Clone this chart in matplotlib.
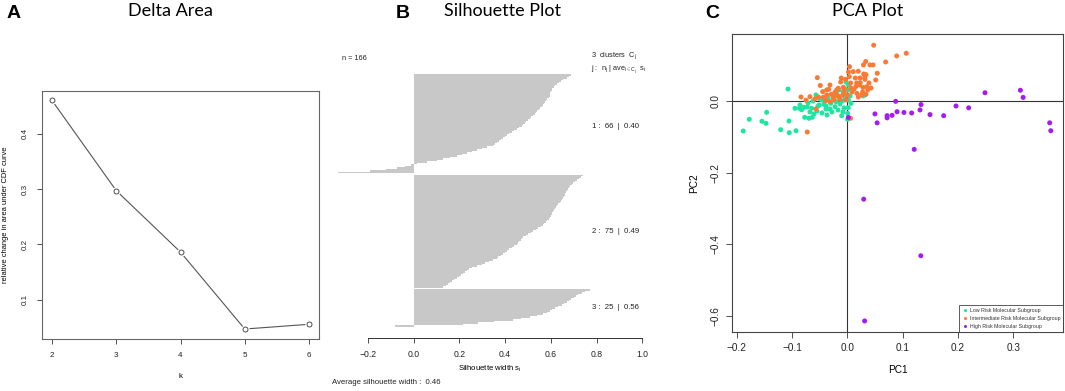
import numpy as np
import matplotlib
matplotlib.use("Agg")
import matplotlib.pyplot as plt
from matplotlib.lines import Line2D

plt.rcParams['font.family'] = ['Liberation Sans', 'DejaVu Sans']
plt.rcParams['mathtext.fontset'] = 'custom'
plt.rcParams['mathtext.rm'] = 'Liberation Sans'
plt.rcParams['mathtext.it'] = 'Liberation Sans'

# ---------------- data ----------------
# Panel A: delta area
k_values = [2, 3, 4, 5, 6]
delta_area = [0.460, 0.297, 0.186, 0.047, 0.0555]

# Panel B: silhouette widths (sorted within cluster)
sil_cluster1 = [0.690, 0.680, 0.670, 0.655, 0.645, 0.635, 0.625, 0.618, 0.612, 0.607,
                0.603, 0.600, 0.598, 0.597, 0.596, 0.590, 0.585, 0.580, 0.575, 0.570,
                0.567, 0.560, 0.554, 0.548, 0.541, 0.535, 0.529, 0.523, 0.515, 0.508,
                0.500, 0.493, 0.486, 0.479, 0.472, 0.462, 0.452, 0.440, 0.428, 0.417,
                0.407, 0.398, 0.390, 0.380, 0.372, 0.363, 0.355, 0.348, 0.320, 0.298,
                0.276, 0.255, 0.232, 0.210, 0.188, 0.160, 0.130, 0.100, 0.060, 0.015,
                -0.010, -0.040, -0.074, -0.120, -0.190, -0.330]
sil_cluster2 = [0.739, 0.730, 0.722, 0.713, 0.706, 0.698, 0.691, 0.685, 0.680, 0.674,
                0.669, 0.666, 0.663, 0.660, 0.657, 0.655, 0.650, 0.644, 0.638, 0.633,
                0.628, 0.623, 0.619, 0.615, 0.611, 0.607, 0.603, 0.600, 0.596, 0.590,
                0.584, 0.578, 0.572, 0.567, 0.556, 0.545, 0.534, 0.523, 0.512, 0.501,
                0.490, 0.480, 0.474, 0.468, 0.462, 0.456, 0.450, 0.440, 0.429, 0.418,
                0.407, 0.398, 0.389, 0.380, 0.371, 0.363, 0.346, 0.330, 0.313, 0.297,
                0.275, 0.254, 0.244, 0.234, 0.225, 0.216, 0.207, 0.198, 0.188, 0.178,
                0.168, 0.159, 0.150, 0.140, 0.130]
sil_cluster3 = [0.771, 0.750, 0.735, 0.720, 0.710, 0.700, 0.690, 0.680, 0.670, 0.658,
                0.647, 0.632, 0.618, 0.607, 0.596, 0.582, 0.567, 0.540, 0.509, 0.470,
                0.436, 0.350, 0.280, 0.217, -0.082]
cluster_labels = ["1 :  66  |  0.40", "2 :  75  |  0.49", "3 :  25  |  0.56"]

# Panel C: PCA scores
low_pc1 = [-0.1881, -0.1772, -0.1543, -0.1470, -0.1458, -0.1204, -0.1054, -0.1049, -0.0928, -0.0946,
           -0.0868, -0.0825, -0.0783, -0.0723, -0.0693, -0.0770, -0.0633, -0.0644, -0.0548, -0.0506,
           -0.0421, -0.0385, -0.0313, -0.0300, -0.0222, -0.0204, -0.0132, -0.0101, 0.0007, 0.0018,
           -0.0042, -0.0145, -0.0253, 0.0018, -0.1072, -0.0566, -0.0458, -0.0253, -0.0192, -0.0150,
           -0.0072, -0.0042, 0.0007, 0.0018, 0.0049, 0.0320, -0.0096, -0.0349, -0.0494, -0.0024,
           0.0067, -0.0060, 0.0007, 0.0284, -0.0675, -0.0385, -0.0602, -0.0458, -0.0277, -0.0168,
           -0.0855, -0.0530, -0.0711, -0.0620, -0.0078, -0.0367]
low_pc2 = [-0.0838, -0.0511, -0.0567, -0.0623, -0.0316, -0.0802, -0.0559, -0.0885, -0.0830, -0.0204,
           -0.0204, -0.0243, -0.0176, -0.0168, -0.0483, -0.0455, -0.0455, -0.0204, -0.0279, -0.0112,
           -0.0092, -0.0223, -0.0223, -0.0064, -0.0159, -0.0020, -0.0084, -0.0411, -0.0344, -0.0187,
           0.0075, 0.0092, 0.0075, 0.0028, 0.0335, 0.0168, 0.0028, 0.0168, 0.0187, 0.0307,
           0.0260, 0.0168, 0.0307, 0.0447, 0.0140, 0.0168, 0.0000, 0.0084, 0.0056, 0.0531,
           -0.0064, -0.0196, -0.0511, 0.0140, -0.0307, -0.0140, -0.0363, -0.0335, -0.0307, -0.0251,
           -0.0112, -0.0140, -0.0056, 0.0000, -0.0307, -0.0391]
mid_pc1 = [0.0477, 0.1067, 0.0893, 0.0694, 0.0333, 0.0293, 0.0410, 0.0465, 0.0040, 0.0108,
           0.0199, 0.0297, 0.0338, 0.0542, 0.0514, 0.0145, 0.0036, -0.0033, -0.0108, -0.0119,
           -0.0542, -0.0313, -0.0336, -0.0488, 0.0061, 0.0170, 0.0224, 0.0157, 0.0320, 0.0351,
           0.0284, 0.0369, 0.0121, 0.0175, 0.0260, -0.0042, -0.0018, 0.0058, -0.0723, -0.0837,
           -0.0747, -0.0289, -0.0181, -0.0373, -0.0313, 0.0199, 0.0315, 0.0235, -0.0445, -0.0434,
           -0.0373, -0.0222, -0.0192, -0.0163, -0.0072, -0.0524, -0.0584, -0.0675, -0.0253, -0.0163,
           -0.0083, -0.0060, 0.0278, 0.0338, 0.0085, 0.0004, 0.0022, 0.0392, 0.0429, 0.0230,
           0.0067, -0.0241, -0.0385, -0.0132, -0.0566]
mid_pc2 = [0.1556, 0.1332, 0.1257, 0.1089, 0.1103, 0.1006, 0.1006, 0.1006, 0.0958, 0.0818,
           0.0830, 0.0754, 0.0735, 0.0774, 0.0587, 0.0642, 0.0679, 0.0601, 0.0642, 0.0531,
           0.0651, 0.0447, 0.0327, 0.0433, 0.0503, 0.0503, 0.0447, 0.0405, 0.0606, 0.0399,
           0.0377, 0.0307, 0.0327, 0.0209, 0.0176, 0.0327, 0.0028, -0.0483, -0.0866, 0.0112,
           0.0022, 0.0187, 0.0140, 0.0168, -0.0020, 0.0112, 0.0651, 0.0511, 0.0260, 0.0103,
           0.0307, 0.0243, 0.0307, 0.0355, 0.0383, 0.0112, 0.0056, 0.0120, 0.0103, 0.0140,
           0.0168, 0.0260, 0.0251, 0.0187, 0.0251, 0.0168, 0.0810, 0.0503, 0.0363, 0.0642,
           0.0363, 0.0028, 0.0014, 0.0042, -0.0223]
high_pc1 = [0.249, 0.313, 0.318, 0.0875, 0.050, 0.054, 0.072, 0.072, 0.081, 0.090,
            0.1025, 0.1164, 0.1315, 0.1333, 0.1496, 0.1743, 0.1966, 0.2195, 0.366, 0.368,
            0.121, 0.0297, 0.133, 0.0314, 0.002]
high_pc2 = [0.023, 0.030, 0.010, -0.001, -0.036, -0.061, -0.041, -0.047, -0.040, -0.030,
            -0.032, -0.0335, -0.025, -0.010, -0.038, -0.041, -0.014, -0.019, -0.061, -0.083,
            -0.135, -0.274, -0.432, -0.614, -0.046]
group_names = ["Low Risk Molecular Subgroup", "Intermediate Risk Molecular Subgroup",
               "High Risk Molecular Subgroup"]
group_colors = ["#1DE6A2", "#FA7A35", "#A51CF2"]

# ---------------- figure ----------------
W, H = 1065, 391
fig = plt.figure(figsize=(W / 100, H / 100), dpi=100)

def fx(px):
    return px / W

def fy(py):
    return 1 - py / H

def axes_px(l, t, r, b):
    return fig.add_axes([fx(l), fy(b), (r - l) / W, (b - t) / H])

frame_col = "#666666"
tick_col = "#333333"

# titles and panel letters
title_font = ['Lato', 'DejaVu Sans']
fig.text(fx(14), fy(13), "A", fontsize=14, fontweight='bold', ha='center', va='center')
fig.text(fx(170), fy(11), "Delta Area", fontsize=13, family=title_font, ha='center', va='center')
fig.text(fx(403), fy(13), "B", fontsize=14, fontweight='bold', ha='center', va='center')
fig.text(fx(503), fy(11), "Silhouette Plot", fontsize=13, family=title_font, ha='center', va='center')
fig.text(fx(712), fy(13), "C", fontsize=14, fontweight='bold', ha='center', va='center')
fig.text(fx(868), fy(11), "PCA Plot", fontsize=13, family=title_font, ha='center', va='center')

# ---------------- Panel A ----------------
axA = axes_px(41.7, 91, 319.3, 338.7)
axA.plot(k_values, delta_area, color="#555555", lw=0.8, zorder=1)
axA.plot(k_values, delta_area, 'o', ms=6, mfc='white', mec='none', zorder=2)
axA.plot(k_values, delta_area, 'o', ms=3.6, mfc='white', mec='#333333', mew=0.6, zorder=3)
axA.set_xlim(1.84, 6.16)
axA.set_ylim(0.0295, 0.477)
axA.set_xticks(k_values)
axA.set_yticks([0.1, 0.2, 0.3, 0.4])
axA.set_yticklabels(["0.1", "0.2", "0.3", "0.4"], rotation=90, va='center')
axA.tick_params(labelsize=5.8, length=3.5, width=0.6, color=tick_col, labelcolor="#222222", pad=6)
for s in axA.spines.values():
    s.set_color(frame_col)
    s.set_linewidth(0.8)
axA.set_xlabel("k", fontsize=5.8, labelpad=10)
axA.set_ylabel("relative change in area under CDF curve", fontsize=5.4, labelpad=9)

# ---------------- Panel B ----------------
axB = axes_px(337.3, 74, 642.3, 337.7)
clusters = [sil_cluster1, sil_cluster2, sil_cluster3]
pos = 0
for vals in clusters:
    ys = np.arange(len(vals)) + pos + 0.5
    axB.barh(ys, vals, height=1.0, color="#C8C8C8", edgecolor='none', linewidth=0)
    pos += len(vals) + 1
total_units = pos - 1
axB.set_ylim(total_units + 7.3, 0)
axB.set_xlim(-0.334, 1.0)
for side in ['left', 'right', 'top']:
    axB.spines[side].set_visible(False)
axB.spines['bottom'].set_bounds(-0.2, 1.0)
axB.spines['bottom'].set_color(tick_col)
axB.spines['bottom'].set_linewidth(0.7)
axB.set_yticks([])
axB.set_xticks([-0.2, 0.0, 0.2, 0.4, 0.6, 0.8, 1.0])
axB.set_xticklabels(["\u22120.2", "0.0", "0.2", "0.4", "0.6", "0.8", "1.0"])
axB.tick_params(axis='x', labelsize=6.2, length=3.5, width=0.6, color=tick_col, labelcolor="#222222", pad=5)
axB.set_xlabel(r"Silhouette width s$_i$", fontsize=5.6, labelpad=4)
fig.text(fx(342), fy(58), "n = 166", fontsize=5.3, ha='left', va='center', color="#222222")
fig.text(fx(591), fy(56), r"3  clusters  C$_j$", fontsize=5.3, ha='left', va='center', color="#222222")
fig.text(fx(591), fy(70), r"j :  n$_j$ | ave$_{i\in C_j}$  s$_i$", fontsize=5.3, ha='left', va='center', color="#222222")
label_y = [126, 231.7, 307.3]
for lab, yy in zip(cluster_labels, label_y):
    fig.text(fx(592), fy(yy), lab, fontsize=5.6, ha='left', va='center', color="#222222")
fig.text(fx(332), fy(382), "Average silhouette width :  0.46", fontsize=5.6, ha='left', va='center', color="#222222")

# ---------------- Panel C ----------------
axC = axes_px(731.7, 34, 1063.3, 331.7)
axC.axhline(0, color="#333333", lw=0.8, zorder=1)
axC.axvline(0, color="#333333", lw=0.8, zorder=1)
xs = [low_pc1, mid_pc1, high_pc1]
ys_ = [low_pc2, mid_pc2, high_pc2]
for x, y, c, name in zip(xs, ys_, group_colors, group_names):
    axC.scatter(x, y, s=13, color=c, edgecolors='none', zorder=3, label=name)
axC.set_xlim(-0.209, 0.3906)
axC.set_ylim(-0.644, 0.187)
axC.set_xticks([-0.2, -0.1, 0.0, 0.1, 0.2, 0.3])
axC.set_xticklabels(["\u22120.2", "\u22120.1", "0.0", "0.1", "0.2", "0.3"])
axC.set_yticks([-0.6, -0.4, -0.2, 0.0])
axC.set_yticklabels(["\u22120.6", "\u22120.4", "\u22120.2", "0.0"], rotation=90, va='center')
axC.tick_params(labelsize=7.2, length=4, width=0.6, color=tick_col, labelcolor="#222222", pad=4)
for s in axC.spines.values():
    s.set_color("#444444")
    s.set_linewidth(0.8)
axC.set_xlabel("PC1", fontsize=7.2, labelpad=9)
axC.set_ylabel("PC2", fontsize=7.2, labelpad=8)
handles = [Line2D([], [], marker='o', linestyle='none', ms=2.2, color=c, mec='none') for c in group_colors]
leg = axC.legend(handles, group_names, loc='lower right', fontsize=3.8, frameon=True,
                 fancybox=False, borderaxespad=0, handlelength=0.8, handletextpad=0.5,
                 labelspacing=0.55, borderpad=0.6, edgecolor="#333333")
leg.get_frame().set_linewidth(0.7)
for t in leg.get_texts():
    t.set_color("#333333")

fig.savefig("out.png", dpi=100)
